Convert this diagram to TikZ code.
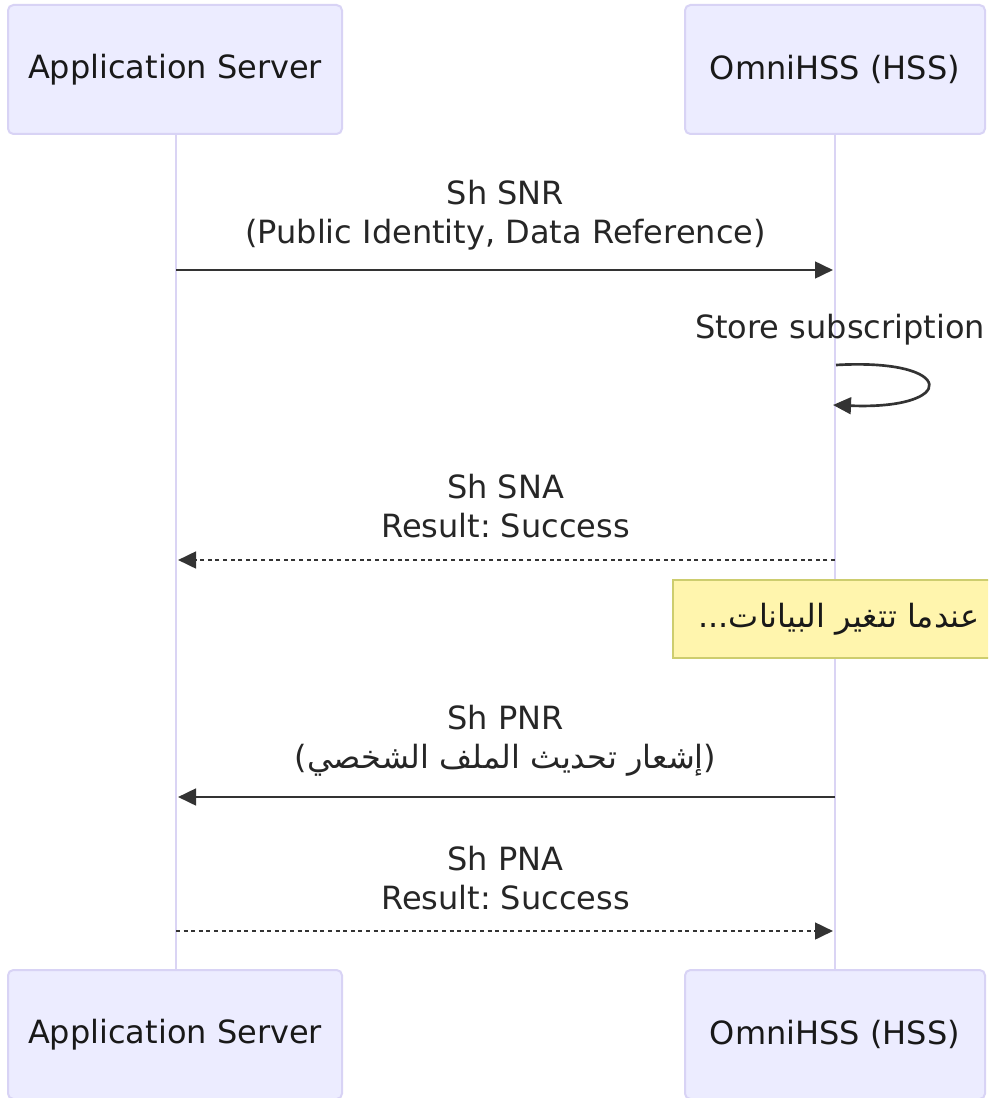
\documentclass[tikz,border=0pt]{standalone}
\usepackage{fontspec}
\setmainfont{DejaVu Sans}
\newfontfamily\arabicfont[Script=Arabic]{DejaVu Sans}
\TeXXeTstate=1
\frenchspacing
\usetikzlibrary{arrows.meta}
\definecolor{actorfill}{HTML}{ECECFF}
\definecolor{actorline}{HTML}{D8D3F5}
\definecolor{lifeline}{HTML}{DAD4F4}
\definecolor{msg}{HTML}{333333}
\definecolor{notefill}{HTML}{FFF5AD}
\definecolor{noteline}{HTML}{CDCD6E}
\tikzset{
  bigfont/.style={font=\fontsize{24}{29}\selectfont},
  actor/.style={draw=actorline, fill=actorfill, line width=1.5pt, rounded corners=4pt,
    minimum height=96.75pt, inner sep=0pt, bigfont, text=black!90},
  lifelinestyle/.style={draw=lifeline, line width=2pt},
  msgline/.style={draw=msg, line width=2pt, -{Triangle[length=13.5pt,width=12.5pt]}},
  msgdash/.style={msgline, dash pattern=on 3pt off 2.7pt},
  msglabel/.style={bigfont, align=center, text=black!85, inner sep=0pt},
  note/.style={draw=noteline, fill=notefill, line width=1.5pt, minimum width=243pt,
    minimum height=58.5pt, inner sep=0pt, bigfont, text=black!90},
}
\begin{document}
\begin{tikzpicture}[x=0.75pt, y=-0.75pt]
\path[use as bounding box, clip] (0,0) rectangle (988,1098);
\fill[white] (0,0) rectangle (988,1098);

% lifelines (behind)
\coordinate (asTop) at (176,134);
\coordinate (asBot) at (176,970);
\coordinate (hssTop) at (835,134);
\coordinate (hssBot) at (835,970);
\draw[lifelinestyle] (asTop) -- (asBot);
\draw[lifelinestyle] (hssTop) -- (hssBot);

% actors
\node[actor, minimum width=250.5pt] (as1) at (175,69.5) {Application Server};
\node[actor, minimum width=225pt] (hss1) at (835,69.5) {OmniHSS (HSS)};
\node[actor, minimum width=250.5pt] (as2) at (175,1034.5) {Application Server};
\node[actor, minimum width=225pt] (hss2) at (835,1034.5) {OmniHSS (HSS)};

% message 1: SNR
\coordinate (m1a) at (176,270);
\coordinate (m1b) at (833,270);
\draw[msgline] (m1a) -- (m1b);
\node[msglabel] (l1) at (505.5,215) {Sh SNR\\(Public Identity, Data Reference)};

% self loop
\coordinate (s1) at (836,365);
\coordinate (s2) at (833,405);
\draw[msgline] (s1) .. controls (958,358) and (958,410) .. (s2);
\node[msglabel] (ls) at (840,330) {Store subscription};

% message 2: SNA
\coordinate (m2a) at (835,560);
\coordinate (m2b) at (178,560);
\draw[msgdash] (m2a) -- (m2b);
\node[msglabel] (l2) at (505.5,506) {Sh SNA\\Result: Success};

% note
\node[note] (n1) at (835,619) {\hspace*{6pt}...{\arabicfont\beginR عندما تتغير البيانات\endR}};

% message 3: PNR
\coordinate (m3a) at (835,797);
\coordinate (m3b) at (178,797);
\draw[msgline] (m3a) -- (m3b);
\node[msglabel] (l3) at (505.5,741) {Sh PNR\\({\arabicfont\beginR إشعار تحديث الملف الشخصي\endR})};

% message 4: PNA
\coordinate (m4a) at (176,931);
\coordinate (m4b) at (833,931);
\draw[msgdash] (m4a) -- (m4b);
\node[msglabel] (l4) at (505.5,878) {Sh PNA\\Result: Success};
\end{tikzpicture}
\end{document}
